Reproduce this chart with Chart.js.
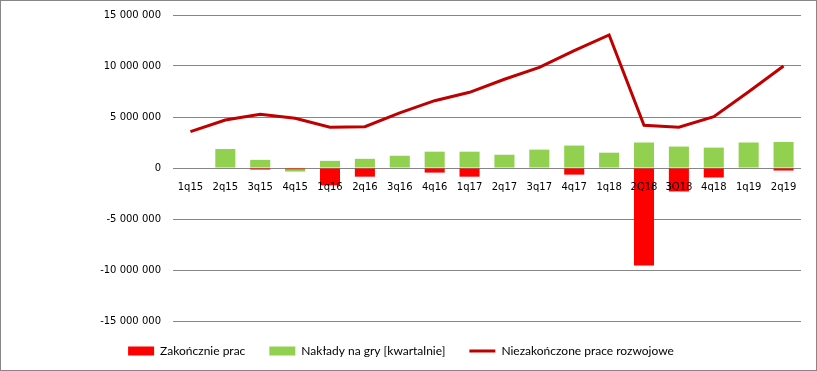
<!DOCTYPE html>
<html>
<head>
<meta charset="utf-8">
<script src="https://cdn.jsdelivr.net/npm/chart.js@4.4.1/dist/chart.umd.min.js"></script>
<style>
  html, body { margin: 0; padding: 0; background: #fff; }
  #wrap { width: 815px; height: 369px; border: 1px solid #878787; position: relative; }
</style>
</head>
<body>
<div id="wrap"><canvas id="barChart"></canvas></div>
<script>
// quarters on the x axis
var quarters = ["1q15", "2q15", "3q15", "4q15", "1q16", "2q16", "3q16", "4q16", "1q17", "2q17",
  "3q17", "4q17", "1q18", "2Q18", "3Q18", "4q18", "1q19", "2q19"];

// values (PLN)
var zakonczenie = [0, 0, -150000, -120000, -1700000, -850000, 0, -450000, -850000, 0,
  0, -650000, 0, -9570000, -2300000, -930000, -50000, -250000];
var naklady = [0, 1860000, 800000, -350000, 700000, 900000, 1200000, 1600000, 1600000, 1300000,
  1800000, 2200000, 1500000, 2500000, 2100000, 2000000, 2500000, 2550000];
var niezakonczone = [3560000, 4700000, 5260000, 4870000, 3990000, 4050000, 5400000, 6600000, 7420000, 8700000,
  9870000, 11500000, 13040000, 4180000, 3990000, 5030000, 7480000, 10000000];

var yTicks = [-15000000, -10000000, -5000000, 0, 5000000, 10000000, 15000000];

function fmt(v) {
  return String(v).replace(/\B(?=(\d{3})+(?!\d))/g, " ");
}

var ctx = document.getElementById("barChart").getContext('2d');
var chart = new Chart(ctx, {
  type: 'bar',
  data: {
    labels: quarters,
    datasets: [{
        label: "Zakończnie prac",
        data: zakonczenie,
        backgroundColor: '#FF0000',
        borderWidth: 0,
        order: 1
      },
      {
        label: "Nakłady na gry [kwartalnie]",
        data: naklady,
        backgroundColor: '#92D050',
        borderWidth: 0,
        order: 2
      },
      {
        type: 'line',
        label: "Niezakończone prace rozwojowe",
        data: niezakonczone,
        borderColor: '#C00000',
        backgroundColor: '#C00000',
        borderWidth: 3,
        pointRadius: 0,
        tension: 0,
        order: 0
      }
    ]
  },
  options: {
    responsive: true,
    maintainAspectRatio: false,
    animation: false,
    layout: {
      padding: { top: 0, right: 15, left: 0, bottom: 3 }
    },
    datasets: {
      bar: { categoryPercentage: 1, barPercentage: 0.575 }
    },
    scales: {
      x: {
        stacked: true,
        position: { y: 0 },
        grid: { display: false },
        border: { display: false },
        ticks: {
          z: 1,
          color: '#000',
          font: { family: 'DejaVu Sans', size: 10 },
          maxRotation: 0,
          autoSkip: false,
          padding: 5
        }
      },
      y: {
        stacked: false,
        min: -15000000,
        max: 15000000,
        afterBuildTicks: function (scale) {
          scale.ticks = yTicks.map(function (v) { return { value: v }; });
        },
        afterFit: function (scale) {
          scale.width = 172;
          scale.paddingTop = 14;
        },
        grid: { color: '#868686', lineWidth: 1, drawTicks: false },
        border: { display: false },
        ticks: {
          color: '#000',
          font: { family: 'DejaVu Sans', size: 10 },
          padding: 12,
          callback: function (v) { return fmt(v); }
        }
      }
    },
    plugins: {
      tooltip: { enabled: false },
      legend: {
        position: 'bottom',
        labels: {
          color: '#000',
          font: { family: "Lato, 'Liberation Sans'", size: 12 },
          boxWidth: 26,
          boxHeight: 9,
          usePointStyle: true,
          pointStyleWidth: 26,
          padding: 24,
          sort: function (a, b) { return a.datasetIndex - b.datasetIndex; },
          generateLabels: function (c) {
            var items = Chart.defaults.plugins.legend.labels.generateLabels(c);
            items.forEach(function (it) {
              if (it.datasetIndex === 2) {
                it.pointStyle = 'line';
                it.lineWidth = 3;
              } else {
                it.pointStyle = 'rect';
                it.lineWidth = 0;
              }
            });
            return items;
          }
        }
      }
    }
  }
});
</script>
</body>
</html>
